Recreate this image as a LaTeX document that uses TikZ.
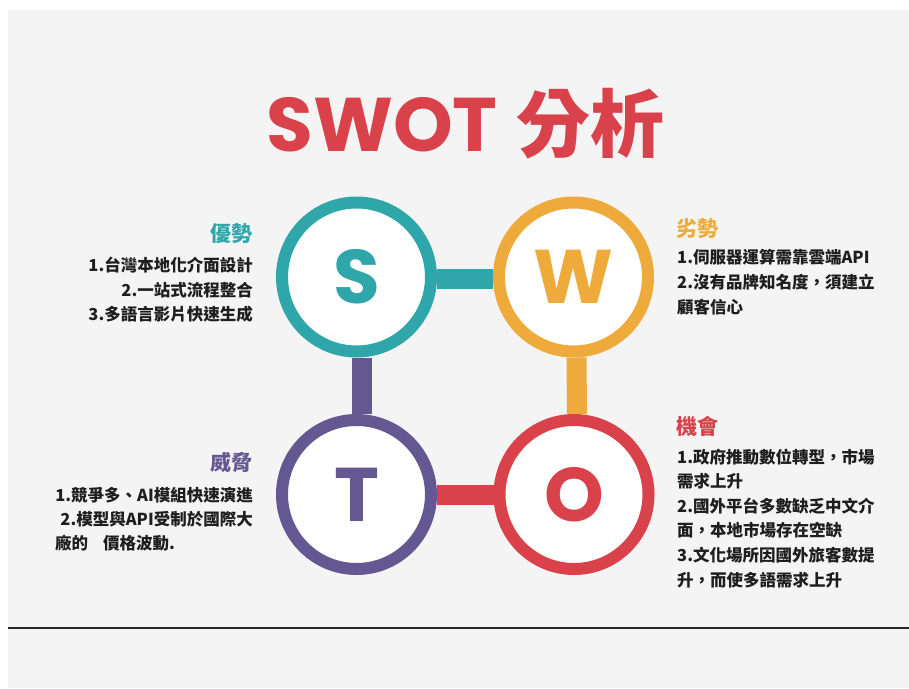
\documentclass[tikz,border=0pt]{standalone}
\usepackage{fontspec}
\setmainfont{Noto Sans CJK TC}
\newfontfamily\popfont{Poppins}
\usetikzlibrary{backgrounds}
\definecolor{swotS}{HTML}{2EA6AA}
\definecolor{swotW}{HTML}{EEAB3B}
\definecolor{swotO}{HTML}{D9424A}
\definecolor{swotT}{HTML}{645892}
\definecolor{panel}{HTML}{F4F4F4}
\definecolor{ink}{HTML}{1E1E1E}

\begin{document}
\begin{tikzpicture}[
    x=1pt, y=-1pt,
    letter node/.style={circle,draw=#1,text=#1,line width=12pt,fill=white,minimum size=149pt,inner sep=0pt,
        font=\popfont\bfseries\fontsize{76}{76}\selectfont},
    bar link/.style={line width=20pt},
    head text/.style={inner sep=0pt,font=\bfseries\fontsize{21}{21}\selectfont},
    body text/.style={inner sep=0pt,text=ink,font=\bfseries\fontsize{16.5}{16.5}\selectfont}
    ]
    \useasboundingbox (0,0) rectangle (909,688);
    % title
    \node[anchor=base,inner sep=0pt,text=swotO] (title) at (465.5,151)
        {{\popfont\bfseries\fontsize{76}{76}\selectfont SWOT}\hspace{19pt}{\bfseries\fontsize{74}{74}\selectfont 分析}};
    % circles
    \node[letter node=swotS] (S) at (356.5,277) {S};
    \node[letter node=swotW] (W) at (573.5,277) {W};
    \node[letter node=swotT] (T) at (356.5,494.5) {T};
    \node[letter node=swotO] (O) at (574,494.5) {O};
    % panel and bars
    \begin{scope}[on background layer]
        \fill[white] (0,0) rectangle (909,688);
        \fill[panel] (8,10) rectangle (909,688);
        \draw[bar link,swotS] ([yshift=-2pt]S.east) -- ([yshift=-2pt]W.west);
        \draw[bar link,swotW] ([xshift=3pt]W.south) -- ([xshift=3pt]O.north);
        \draw[bar link,swotO] (O.west) -- (T.east);
        \draw[bar link,swotT] ([xshift=5pt]T.north) -- ([xshift=5pt]S.south);
    \end{scope}
    % bottom rule
    \draw[line width=2pt,black!85] (8,628) -- (909,628);
    % strengths
    \node[head text,text=swotS,anchor=base east] (Shead) at (253,241) {優勢};
    \foreach \y/\t [count=\i] in {271/1.台灣本地化介面設計,296/2.一站式流程整合,320/3.多語言影片快速生成} {
        \node[body text,anchor=base east] (S\i) at (253,\y) {\t};
    }
    % weaknesses
    \node[head text,text=swotW,anchor=base west] (Whead) at (676,236) {劣勢};
    \foreach \y/\t [count=\i] in {263/1.伺服器運算需靠雲端API,288/2.沒有品牌知名度，須建立,313/顧客信心} {
        \node[body text,anchor=base west] (W\i) at (677,\y) {\t};
    }
    % threats
    \node[head text,text=swotT,anchor=base east] (Thead) at (253,470) {威脅};
    \node[body text,anchor=base east] (T1) at (253,501) {1.競爭多、AI模組快速演進};
    \node[body text,anchor=base east] (T2) at (253,525) {2.模型與API受制於國際大};
    \node[body text,anchor=base west] (T3) at (55,549) {廠的\hspace{0.9em}價格波動.};
    % opportunities
    \node[head text,text=swotO,anchor=base west] (Ohead) at (676,434) {機會};
    \foreach \y/\t [count=\i] in {463/1.政府推動數位轉型，市場,487.6/需求上升,512.2/2.國外平台多數缺乏中文介,
        536.8/面，本地市場存在空缺,561.4/3.文化場所因國外旅客數提,586/升，而使多語需求上升} {
        \node[body text,anchor=base west] (O\i) at (677,\y) {\t};
    }
\end{tikzpicture}
\end{document}
